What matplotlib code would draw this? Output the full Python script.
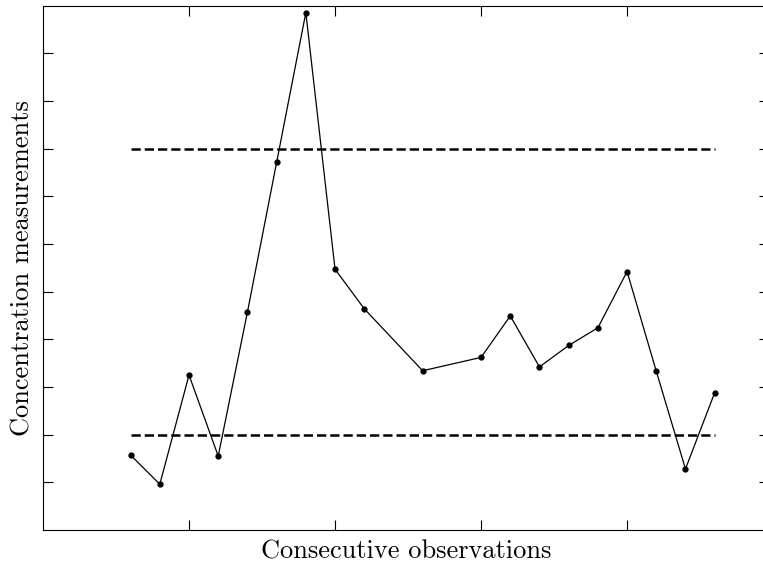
import numpy as np
import matplotlib.pyplot as plt

# observations (index) and concentration values
obs = [3, 4, 5, 6, 7, 8, 9, 10, 11, 13, 15, 16, 17, 18, 19, 20, 21, 22, 23]
conc = [1.57, 0.96, 3.25, 1.55, 4.57, 7.71, 10.85, 5.47, 4.64, 3.34, 3.62,
        4.49, 3.42, 3.87, 4.24, 5.42, 3.33, 1.28, 2.88]

ucl = 8.0
lcl = 2.0
limit_span = [3, 23]

plt.rcParams['font.family'] = 'serif'
plt.rcParams['font.serif'] = ['cmr10', 'DejaVu Serif']
plt.rcParams['axes.formatter.use_mathtext'] = True

fig = plt.figure(figsize=(7.63, 5.67), dpi=100)
ax = fig.add_axes([43 / 763, 37 / 567, 726 / 763, 524.5 / 567])

ax.plot(limit_span, [ucl, ucl], 'k--', lw=1.8)
ax.plot(limit_span, [lcl, lcl], 'k--', lw=1.8)
ax.plot(obs, conc, 'k-', lw=0.9, marker='o', ms=3.5)

ax.set_xlim(0, 24.86)
ax.set_ylim(0, 11)
ax.set_xticks([5, 10, 15, 20])
ax.set_yticks(np.arange(1, 11))
ax.tick_params(direction='in', length=7.5, width=0.8, top=True, right=True,
               labelbottom=False, labelleft=False)
for s in ax.spines.values():
    s.set_linewidth(0.8)

ax.set_xlabel('Consecutive observations', fontsize=19, labelpad=7)
ax.set_ylabel('Concentration measurements', fontsize=19, labelpad=6)

fig.savefig('out.png', dpi=100)
